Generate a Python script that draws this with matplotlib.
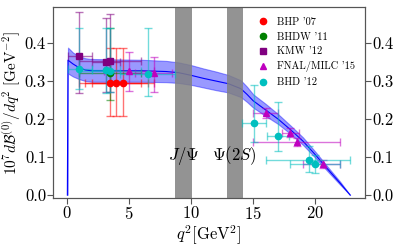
import numpy as np
import matplotlib
matplotlib.use("Agg")
import matplotlib.pyplot as plt

plt.rcParams['font.family'] = ['cmr10', 'DejaVu Serif']
plt.rcParams['mathtext.fontset'] = 'cm'
plt.rcParams['axes.formatter.use_mathtext'] = True

# --- SM prediction (central line and band) ---
q_curve = [0.05, 0.1, 0.5, 1.0, 1.5, 2.0, 4.0, 6.0, 8.0, 9.0, 10.0, 11.0, 12.0,
           13.0, 14.0, 14.5, 15.0, 16.0, 17.0, 18.0, 19.0, 20.0, 21.0, 22.0, 22.8]
central = [0.0, 0.355, 0.345, 0.335, 0.329, 0.327, 0.327, 0.327, 0.325, 0.322,
           0.315, 0.307, 0.300, 0.293, 0.280, 0.265, 0.248, 0.224, 0.200, 0.172,
           0.142, 0.106, 0.068, 0.031, 0.0]
band_hi = [0.0, 0.388, 0.375, 0.365, 0.360, 0.358, 0.357, 0.356, 0.353, 0.349,
           0.342, 0.333, 0.325, 0.316, 0.302, 0.285, 0.265, 0.240, 0.213, 0.183,
           0.152, 0.114, 0.074, 0.035, 0.0]
band_lo = [0.0, 0.320, 0.312, 0.305, 0.300, 0.298, 0.298, 0.298, 0.297, 0.295,
           0.290, 0.283, 0.276, 0.270, 0.258, 0.245, 0.230, 0.208, 0.187, 0.161,
           0.132, 0.098, 0.062, 0.027, 0.0]

# --- data sets: q2, value, xerr(lo, hi), yerr(lo, hi) ---
bhp_q = [3.5, 4.0, 4.5]
bhp_v = [0.294, 0.294, 0.294]
bhp_xlo = [2.5, 2.5, 2.5]
bhp_xhi = [2.5, 2.5, 2.5]
bhp_ylo = [0.085, 0.085, 0.085]
bhp_yhi = [0.092, 0.092, 0.092]

bhdw_q = [3.5]
bhdw_v = [0.320]
bhdw_xlo = [2.5]
bhdw_xhi = [2.5]
bhdw_ylo = [0.07]
bhdw_yhi = [0.12]

kmw_q = [1.0, 3.15, 3.5]
kmw_v = [0.367, 0.351, 0.354]
kmw_xlo = [0.9, 1.15, 2.5]
kmw_xhi = [1.0, 1.15, 2.5]
kmw_ylo = [0.099, 0.080, 0.084]
kmw_yhi = [0.115, 0.116, 0.122]

fnal_q = [5.0, 7.0, 16.0, 18.0, 18.5, 20.6]
fnal_v = [0.326, 0.320, 0.217, 0.164, 0.140, 0.081]
fnal_xlo = [2.0, 1.5, 1.0, 0.7, 3.5, 1.6]
fnal_xhi = [2.0, 1.5, 1.0, 0.7, 3.5, 1.4]
fnal_ylo = [0.052, 0.050, 0.013, 0.012, 0.010, 0.010]
fnal_yhi = [0.051, 0.044, 0.013, 0.012, 0.010, 0.010]

bhd_q = [1.0, 3.15, 3.5, 6.5, 15.1, 17.0, 19.5, 20.0]
bhd_v = [0.331, 0.329, 0.327, 0.318, 0.189, 0.156, 0.092, 0.081]
bhd_xlo = [0.9, 1.15, 2.5, 2.2, 1.0, 0.9, 3.5, 2.0]
bhd_xhi = [1.0, 1.15, 2.5, 2.2, 0.9, 0.9, 3.3, 2.0]
bhd_ylo = [0.053, 0.060, 0.057, 0.057, 0.049, 0.040, 0.031, 0.023]
bhd_yhi = [0.109, 0.110, 0.112, 0.121, 0.100, 0.088, 0.037, 0.024]

resonances = [(8.68, 10.09, r"$J/\Psi$"), (12.86, 14.18, r"$\Psi(2S)$")]

fig = plt.figure(figsize=(3.99, 2.47), dpi=100)
ax = fig.add_axes([0.133, 0.198, 0.782, 0.774])

ax.fill_between(q_curve, band_lo, band_hi, color='blue', alpha=0.4, lw=0.8, zorder=2)
ax.plot(q_curve, central, color='blue', lw=0.8, zorder=3)

for lo, hi, lab in resonances:
    ax.axvspan(lo, hi, color='gray', alpha=0.85, lw=0, zorder=4)
    ax.text((lo + hi) / 2, 0.103, lab, ha='center', va='center', fontsize=12, zorder=6)

sets = [
    (bhp_q, bhp_v, bhp_xlo, bhp_xhi, bhp_ylo, bhp_yhi, 'red', 'o', "BHP '07"),
    (bhdw_q, bhdw_v, bhdw_xlo, bhdw_xhi, bhdw_ylo, bhdw_yhi, 'green', 'o', "BHDW '11"),
    (kmw_q, kmw_v, kmw_xlo, kmw_xhi, kmw_ylo, kmw_yhi, 'purple', 's', "KMW '12"),
    (fnal_q, fnal_v, fnal_xlo, fnal_xhi, fnal_ylo, fnal_yhi, 'm', '^', "FNAL/MILC '15"),
    (bhd_q, bhd_v, bhd_xlo, bhd_xhi, bhd_ylo, bhd_yhi, 'c', 'o', "BHD '12"),
]
for q, v, xlo, xhi, ylo, yhi, col, mk, lab in sets:
    ax.errorbar(q, v, xerr=[xlo, xhi], yerr=[ylo, yhi], fmt='none',
                ecolor=col, alpha=0.55, elinewidth=1, capsize=3, zorder=5)
    ax.plot(q, v, ls='none', marker=mk, color=col, ms=4.5, label=lab, zorder=7)

ax.set_xlim(-1.1, 24)
ax.set_ylim(-0.008, 0.495)
ax.set_xticks([0, 5, 10, 15, 20])
ax.set_yticks([0.0, 0.1, 0.2, 0.3, 0.4])
ax.set_yticklabels(["0.0", "0.1", "0.2", "0.3", "0.4"])
ax.set_xlabel(r"$q^2[\mathrm{GeV}^2]$", fontsize=12, labelpad=1)
ax.set_ylabel(r"$10^7 d\mathcal{B}^{(0)}/dq^2\ [\mathrm{GeV}^{-2}]$", fontsize=11, labelpad=1)

ax2 = ax.twinx()
ax2.set_ylim(ax.get_ylim())
ax2.set_yticks([0.0, 0.1, 0.2, 0.3, 0.4])
ax2.set_yticklabels(["0.0", "0.1", "0.2", "0.3", "0.4"])

for a in (ax, ax2):
    for s in a.spines.values():
        s.set_color('#555555')
    a.tick_params(direction='out', length=4, width=0.8, color='#555555', labelsize=12, pad=1)

leg = ax.legend(loc='upper right', frameon=False, fontsize=7.5, handletextpad=0.6,
                labelspacing=0.5, borderaxespad=0.6, handlelength=1.5)

fig.savefig("out.png", dpi=100)
